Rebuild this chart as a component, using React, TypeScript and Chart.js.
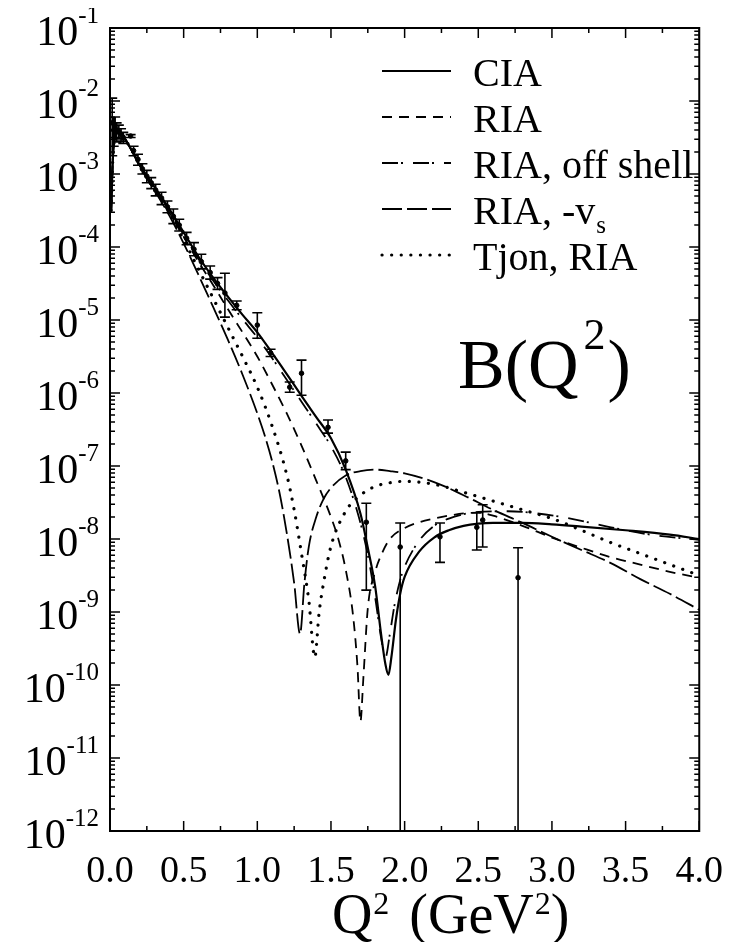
import React, { useEffect, useRef } from 'react';
import { Chart, registerables } from 'chart.js';

Chart.register(...registerables);

const SERIF = '"Liberation Serif", "Times New Roman", Times, serif';

// ---- axes ----
const xTickValues = [0, 0.5, 1.0, 1.5, 2.0, 2.5, 3.0, 3.5, 4.0];
const xTickLabels = ['0.0', '0.5', '1.0', '1.5', '2.0', '2.5', '3.0', '3.5', '4.0'];
const xMinorTicks = [0.25, 0.75, 1.25, 1.75, 2.25, 2.75, 3.25, 3.75];
const yDecades = [-1, -2, -3, -4, -5, -6, -7, -8, -9, -10, -11, -12];

// ---- theory curves: Q^2 (GeV^2) and log10 B(Q^2) ----
const ciaQ = [0.008, 0.02, 0.035, 0.055, 0.08, 0.12, 0.16, 0.2, 0.3, 0.4, 0.5, 0.6, 0.7, 0.8, 0.9, 1.0, 1.1, 1.2, 1.3, 1.4, 1.5, 1.6, 1.7, 1.75, 1.8, 1.84, 1.87, 1.89, 1.91, 1.94, 1.97, 2.0, 2.1, 2.2, 2.3, 2.4, 2.5, 2.6, 2.8, 3.0, 3.2, 3.5, 3.8, 4.0];
const ciaLogB = [-3.5, -2.75, -2.5, -2.42, -2.45, -2.58, -2.72, -2.87, -3.17, -3.47, -3.8, -4.13, -4.42, -4.68, -4.93, -5.17, -5.45, -5.74, -6.04, -6.33, -6.62, -7.05, -7.65, -8.12, -8.65, -9.3, -9.72, -9.86, -9.62, -9.12, -8.75, -8.52, -8.17, -7.98, -7.88, -7.82, -7.79, -7.78, -7.78, -7.8, -7.83, -7.88, -7.94, -8.0];

const riaQ = [0.008, 0.02, 0.035, 0.055, 0.08, 0.12, 0.16, 0.2, 0.3, 0.4, 0.5, 0.6, 0.7, 0.8, 0.9, 1.0, 1.1, 1.2, 1.3, 1.4, 1.5, 1.55, 1.6, 1.65, 1.68, 1.7, 1.72, 1.75, 1.8, 1.85, 1.9, 2.0, 2.1, 2.2, 2.3, 2.4, 2.5, 2.6, 2.8, 3.0, 3.2, 3.4, 3.6, 3.8, 4.0];
const riaLogB = [-3.5, -2.75, -2.5, -2.42, -2.45, -2.58, -2.72, -2.88, -3.2, -3.52, -3.86, -4.2, -4.52, -4.85, -5.17, -5.5, -5.88, -6.28, -6.72, -7.2, -7.7, -8.0, -8.42, -9.05, -9.75, -10.5, -9.9, -8.95, -8.45, -8.18, -8.0, -7.85, -7.77, -7.72, -7.68, -7.65, -7.64, -7.68, -7.82, -7.98, -8.12, -8.25, -8.35, -8.45, -8.53];

const offQ = [0.008, 0.02, 0.035, 0.055, 0.08, 0.12, 0.16, 0.2, 0.3, 0.4, 0.5, 0.6, 0.7, 0.8, 0.9, 1.0, 1.1, 1.2, 1.3, 1.4, 1.5, 1.6, 1.7, 1.75, 1.8, 1.84, 1.87, 1.9, 1.93, 1.97, 2.0, 2.1, 2.2, 2.3, 2.4, 2.5, 2.7, 2.9, 3.1, 3.4, 3.7, 4.0];
const offLogB = [-3.5, -2.75, -2.5, -2.42, -2.45, -2.58, -2.72, -2.87, -3.18, -3.49, -3.83, -4.16, -4.46, -4.73, -4.99, -5.24, -5.52, -5.82, -6.12, -6.42, -6.73, -7.15, -7.78, -8.22, -8.8, -9.35, -9.62, -9.3, -8.92, -8.56, -8.38, -8.02, -7.82, -7.72, -7.66, -7.63, -7.62, -7.65, -7.71, -7.84, -7.95, -8.01];

const vsQ = [0.008, 0.02, 0.035, 0.055, 0.08, 0.12, 0.16, 0.2, 0.3, 0.4, 0.5, 0.6, 0.7, 0.8, 0.9, 1.0, 1.05, 1.1, 1.15, 1.2, 1.25, 1.29, 1.32, 1.35, 1.4, 1.45, 1.5, 1.6, 1.7, 1.8, 1.9, 2.0, 2.2, 2.4, 2.6, 2.8, 3.0, 3.2, 3.4, 3.6, 3.8, 4.0];
const vsLogB = [-3.5, -2.75, -2.5, -2.42, -2.45, -2.58, -2.73, -2.89, -3.22, -3.56, -3.95, -4.38, -4.82, -5.27, -5.75, -6.28, -6.58, -6.93, -7.36, -7.92, -8.6, -9.3, -8.6, -8.1, -7.7, -7.45, -7.3, -7.13, -7.07, -7.05, -7.07, -7.1, -7.22, -7.4, -7.6, -7.78, -7.97, -8.15, -8.33, -8.55, -8.75, -8.97];

const tjQ = [0.008, 0.02, 0.035, 0.055, 0.08, 0.12, 0.16, 0.2, 0.3, 0.4, 0.5, 0.6, 0.7, 0.8, 0.9, 1.0, 1.1, 1.2, 1.25, 1.3, 1.35, 1.39, 1.42, 1.45, 1.5, 1.6, 1.7, 1.8, 1.9, 2.0, 2.2, 2.4, 2.6, 2.8, 3.0, 3.2, 3.4, 3.6, 3.8, 4.0];
const tjLogB = [-3.5, -2.75, -2.5, -2.42, -2.45, -2.58, -2.72, -2.88, -3.2, -3.52, -3.9, -4.3, -4.7, -5.1, -5.5, -5.92, -6.45, -7.12, -7.6, -8.2, -8.85, -9.62, -9.0, -8.6, -8.1, -7.62, -7.4, -7.28, -7.23, -7.21, -7.25, -7.36, -7.48, -7.6, -7.72, -7.88, -8.05, -8.2, -8.35, -8.5];

// ---- experimental points: Q^2, log10 B, log10 upper, log10 lower (null = bar reaches zero) ----
const expQ = [0.015, 0.025, 0.035, 0.045, 0.06, 0.075, 0.09, 0.14, 0.16, 0.19, 0.22, 0.25, 0.28, 0.31, 0.35, 0.39, 0.43, 0.47, 0.52, 0.57, 0.62, 0.68, 0.73, 0.78, 0.86, 1.0, 1.09, 1.22, 1.3, 1.48, 1.6, 1.74, 1.97, 2.24, 2.49, 2.53, 2.77];
const expLogB = [-2.3, -2.4, -2.36, -2.42, -2.42, -2.46, -2.5, -2.48, -2.68, -2.8, -2.93, -3.03, -3.12, -3.22, -3.33, -3.45, -3.58, -3.7, -3.88, -4.03, -4.2, -4.35, -4.5, -4.63, -4.8, -5.07, -5.45, -5.92, -5.73, -6.47, -6.93, -7.77, -8.11, -7.97, -7.84, -7.74, -8.53];
const expLogHi = [-1.96, -2.22, -2.22, -2.3, -2.33, -2.38, -2.43, -2.46, -2.62, -2.73, -2.86, -2.95, -3.05, -3.14, -3.25, -3.37, -3.48, -3.62, -3.8, -3.94, -4.1, -4.26, -4.42, -4.36, -4.74, -4.9, -5.4, -5.85, -5.55, -6.37, -6.81, -7.51, -7.78, -7.78, -7.64, -7.53, -8.12];
const expLogLo: (number | null)[] = [-2.75, -2.62, -2.5, -2.56, -2.52, -2.55, -2.58, -2.5, -2.75, -2.88, -3.0, -3.12, -3.2, -3.3, -3.42, -3.53, -3.68, -3.78, -3.97, -4.12, -4.3, -4.44, -4.58, -4.96, -4.86, -5.25, -5.5, -5.99, -6.03, -6.55, -7.05, -8.7, null, -8.32, -8.15, -8.11, null];

// ---- legend ----
const legendLabels = ['CIA', 'RIA', 'RIA, off shell', 'RIA, -v', 'Tjon, RIA'];
const legendSubs = ['', '', '', 's', ''];

const toPts = (q: number[], lb: number[]) => q.map((v, i) => ({ x: v, y: Math.pow(10, lb[i]) }));

const framePlugin = {
  id: 'frameTicks',
  afterDraw(chart: any) {
    const { ctx, chartArea, scales } = chart;
    const { left, right, top, bottom } = chartArea;
    const x = scales.x, y = scales.y;
    ctx.save();
    ctx.strokeStyle = '#000';
    ctx.lineWidth = 2;
    ctx.strokeRect(left, top, right - left, bottom - top);
    ctx.lineWidth = 1.5;
    ctx.beginPath();
    const xt = (v: number, len: number) => {
      const px = x.getPixelForValue(v);
      ctx.moveTo(px, bottom); ctx.lineTo(px, bottom - len);
      ctx.moveTo(px, top); ctx.lineTo(px, top + len);
    };
    xTickValues.forEach((v) => xt(v, 10));
    xMinorTicks.forEach((v) => xt(v, 5));
    yDecades.forEach((e) => {
      for (let m = 1; m <= 9; m++) {
        const v = m * Math.pow(10, e);
        if (v > 0.1 * 1.0001) break;
        const py = y.getPixelForValue(v);
        const len = m === 1 ? 10 : 5;
        ctx.moveTo(left, py); ctx.lineTo(left + len, py);
        ctx.moveTo(right, py); ctx.lineTo(right - len, py);
      }
    });
    ctx.stroke();

    // y labels 10^n
    ctx.fillStyle = '#000';
    ctx.textAlign = 'right';
    ctx.textBaseline = 'alphabetic';
    const rx = left - 11;
    yDecades.forEach((e) => {
      const py = y.getPixelForValue(Math.pow(10, e));
      ctx.font = `25px ${SERIF}`;
      const es = String(e);
      const we = ctx.measureText(es).width;
      ctx.fillText(es, rx, py - 5);
      ctx.font = `42px ${SERIF}`;
      ctx.fillText('10', rx - we, py + 17);
    });

    // axis title Q^2 (GeV^2)
    ctx.textAlign = 'left';
    const big = `56px ${SERIF}`, sup = `32px ${SERIF}`;
    ctx.font = big; const wQ = ctx.measureText('Q').width; const wG = ctx.measureText('(GeV').width; const wP = ctx.measureText(')').width;
    ctx.font = sup; const w2 = ctx.measureText('2').width;
    const total = wQ + w2 + 20 + wG + w2 + wP;
    let tx = (left + right) / 2 + 45 - total / 2;
    const by = 925;
    ctx.font = big; ctx.fillText('Q', tx, by); tx += wQ + 1;
    ctx.font = sup; ctx.fillText('2', tx, by - 19); tx += w2 + 20;
    ctx.font = big; ctx.fillText('(GeV', tx, by); tx += wG + 1;
    ctx.font = sup; ctx.fillText('2', tx, by - 19); tx += w2;
    ctx.font = big; ctx.fillText(')', tx, by);

    // B(Q^2) label
    const bx = 450, bb = 380;
    ctx.font = `70px ${SERIF}`;
    ctx.fillText('B(Q', bx, bb);
    const wb = ctx.measureText('B(Q').width;
    ctx.font = `44px ${SERIF}`;
    ctx.fillText('2', bx + wb + 5, bb - 39);
    const ws = ctx.measureText('2').width;
    ctx.font = `70px ${SERIF}`;
    ctx.fillText(')', bx + wb + 5 + ws + 2, bb);

    // legend
    chart.data.datasets.slice(0, 5).forEach((ds: any, i: number) => {
      const ly = 63 + 46 * i;
      ctx.beginPath();
      ctx.setLineDash(ds.borderDash || []);
      ctx.lineWidth = ds.borderWidth;
      ctx.lineCap = ds.borderCapStyle || 'butt';
      ctx.moveTo(374, ly); ctx.lineTo(443, ly);
      ctx.stroke();
      ctx.setLineDash([]);
      ctx.lineCap = 'butt';
      ctx.font = `40px ${SERIF}`;
      ctx.fillText(legendLabels[i], 465, ly + 15);
      if (legendSubs[i]) {
        const wl = ctx.measureText(legendLabels[i]).width;
        ctx.font = `25px ${SERIF}`;
        ctx.fillText(legendSubs[i], 465 + wl + 1, ly + 24);
      }
    });
    ctx.restore();
  },
};

const errorBarPlugin = {
  id: 'errorBars',
  afterDatasetsDraw(chart: any) {
    const { ctx, chartArea, scales } = chart;
    const x = scales.x, y = scales.y;
    ctx.save();
    ctx.beginPath();
    ctx.rect(chartArea.left, chartArea.top, chartArea.width, chartArea.height);
    ctx.clip();
    ctx.strokeStyle = '#000';
    ctx.lineWidth = 1.6;
    ctx.beginPath();
    expQ.forEach((q, i) => {
      const px = x.getPixelForValue(q);
      const yHi = y.getPixelForValue(Math.pow(10, expLogHi[i]));
      const lo = expLogLo[i];
      const yLo = lo === null ? chartArea.bottom : y.getPixelForValue(Math.pow(10, lo));
      ctx.moveTo(px, yHi); ctx.lineTo(px, yLo);
      ctx.moveTo(px - 5, yHi); ctx.lineTo(px + 5, yHi);
      if (lo !== null) { ctx.moveTo(px - 5, yLo); ctx.lineTo(px + 5, yLo); }
    });
    ctx.stroke();
    ctx.restore();
  },
};

export default function App() {
  const ref = useRef<HTMLCanvasElement | null>(null);
  useEffect(() => {
    if (!ref.current) return;
    const line = (label: string, data: any, dash: number[], width: number, cap = 'butt') => ({
      type: 'line', label, data, borderColor: '#000', backgroundColor: '#000', borderWidth: width,
      borderDash: dash, borderCapStyle: cap, pointRadius: 0, fill: false, cubicInterpolationMode: 'monotone',
    });
    const chart = new Chart(ref.current, {
      type: 'line',
      data: {
        datasets: [
          line('CIA', toPts(ciaQ, ciaLogB), [], 2.2),
          line('RIA', toPts(riaQ, riaLogB), [10, 7], 1.8),
          line('RIA, off shell', toPts(offQ, offLogB), [16, 3, 2, 10], 1.8),
          line('RIA, -vs', toPts(vsQ, vsLogB), [20, 5], 1.8),
          line('Tjon, RIA', toPts(tjQ, tjLogB), [0.1, 9.5], 3.2, 'round'),
          {
            type: 'line', label: 'data', data: toPts(expQ, expLogB), showLine: false,
            pointRadius: 2.3, pointBackgroundColor: '#000', pointBorderColor: '#000', borderColor: '#000',
          },
        ] as any,
      },
      options: {
        responsive: false,
        animation: false,
        layout: { padding: { top: 20, right: 17, left: 0, bottom: 0 } },
        plugins: { legend: { display: false }, tooltip: { enabled: false }, title: { display: false } },
        scales: {
          x: {
            type: 'linear', min: 0, max: 4,
            afterBuildTicks: (s: any) => { s.ticks = xTickValues.map((v) => ({ value: v })); },
            afterFit: (s: any) => { s.height = 111; },
            ticks: {
              callback: (_v: any, i: number) => xTickLabels[i],
              font: { family: SERIF, size: 38 }, color: '#000', padding: 10, maxRotation: 0, autoSkip: false,
            },
            grid: { display: false },
            border: { display: false },
          },
          y: {
            type: 'logarithmic', min: 1e-12, max: 1e-1,
            afterFit: (s: any) => { s.width = 102; },
            ticks: { display: false },
            grid: { display: false },
            border: { display: false },
          },
        },
      } as any,
      plugins: [errorBarPlugin, framePlugin],
    });
    return () => chart.destroy();
  }, []);
  return (
    <div style={{ width: 725, height: 934 }}>
      <canvas ref={ref} width={725} height={934} />
    </div>
  );
}
